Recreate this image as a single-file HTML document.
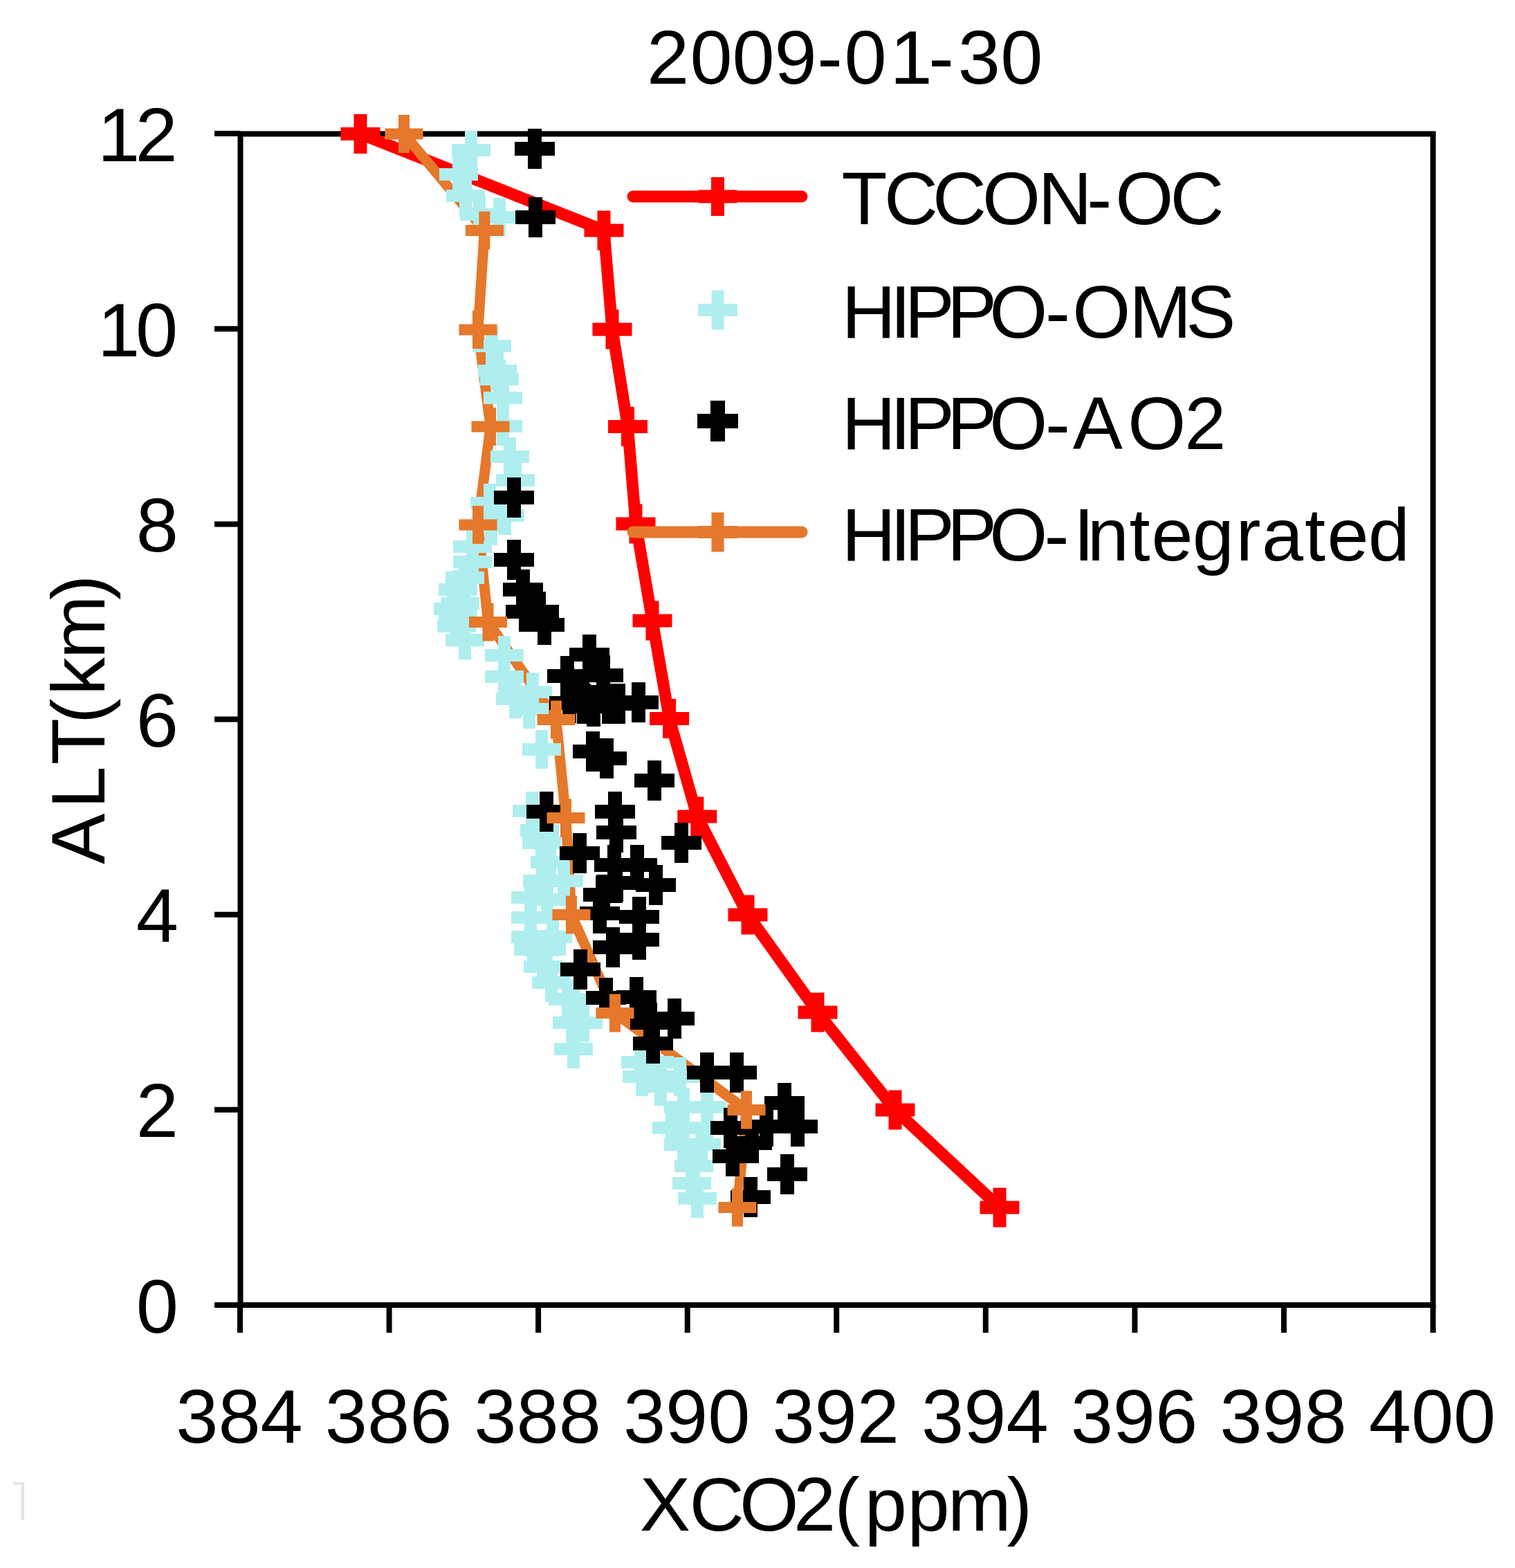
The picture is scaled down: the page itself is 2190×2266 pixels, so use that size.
<!DOCTYPE html><html><head><meta charset="utf-8"><style>html,body{margin:0;padding:0;background:#fff;}svg{display:block;}text{font-family:"Liberation Sans",Arial,sans-serif;fill:#000;}</style></head><body>
<svg width="2190" height="2266" viewBox="0 0 2190 2266">
<rect width="2190" height="2266" fill="#fff"/>
<text x="935.1 997.5 1058.5 1119.5 1181.2 1220.5 1286.5 1342.3 1384.8 1446.2" y="121" font-size="110">2009-01-30</text>
<text x="258" y="1925.5" font-size="110" text-anchor="end">0</text>
<text x="258" y="1643.3" font-size="110" text-anchor="end">2</text>
<text x="258" y="1361.2" font-size="110" text-anchor="end">4</text>
<text x="258" y="1079.0" font-size="110" text-anchor="end">6</text>
<text x="258" y="796.9" font-size="110" text-anchor="end">8</text>
<text x="141.0 196.0" y="514.7" font-size="110">10</text>
<text x="141.0 195.5" y="232.5" font-size="110">12</text>
<text x="346.0" y="2085" font-size="110" text-anchor="middle">384</text>
<text x="561.6" y="2085" font-size="110" text-anchor="middle">386</text>
<text x="777.1" y="2085" font-size="110" text-anchor="middle">388</text>
<text x="992.7" y="2085" font-size="110" text-anchor="middle">390</text>
<text x="1208.2" y="2085" font-size="110" text-anchor="middle">392</text>
<text x="1423.8" y="2085" font-size="110" text-anchor="middle">394</text>
<text x="1639.4" y="2085" font-size="110" text-anchor="middle">396</text>
<text x="1854.9" y="2085" font-size="110" text-anchor="middle">398</text>
<text x="2070.5" y="2085" font-size="110" text-anchor="middle">400</text>
<text x="924.8 996.5 1068.9 1146.9 1206.3 1249.7 1311.4 1370.0 1455.4" y="2212" font-size="110">XCO2(ppm)</text>
<text x="-1249.1 -1168.4 -1105.2 -1045.9 -1005.1 -952.0 -867.2" y="150.5" font-size="110" transform="rotate(-90)">ALT(km)</text>
<g stroke="#000" stroke-width="8" fill="none">
<rect x="347.5" y="193.5" width="1724" height="1692.5"/>
<line x1="310" y1="1886.0" x2="347.5" y2="1886.0"/>
<line x1="310" y1="1603.8" x2="347.5" y2="1603.8"/>
<line x1="310" y1="1321.7" x2="347.5" y2="1321.7"/>
<line x1="310" y1="1039.5" x2="347.5" y2="1039.5"/>
<line x1="310" y1="757.4" x2="347.5" y2="757.4"/>
<line x1="310" y1="475.2" x2="347.5" y2="475.2"/>
<line x1="310" y1="193.0" x2="347.5" y2="193.0"/>
<line x1="347.0" y1="1886" x2="347.0" y2="1926"/>
<line x1="562.6" y1="1886" x2="562.6" y2="1926"/>
<line x1="778.1" y1="1886" x2="778.1" y2="1926"/>
<line x1="993.7" y1="1886" x2="993.7" y2="1926"/>
<line x1="1209.2" y1="1886" x2="1209.2" y2="1926"/>
<line x1="1424.8" y1="1886" x2="1424.8" y2="1926"/>
<line x1="1640.4" y1="1886" x2="1640.4" y2="1926"/>
<line x1="1855.9" y1="1886" x2="1855.9" y2="1926"/>
<line x1="2071.5" y1="1886" x2="2071.5" y2="1926"/>
</g>
<path d="M521.0 193.5 L873.0 333.0 L885.0 476.0 L907.5 616.5 L919.0 757.0 L943.0 897.0 L967.6 1038.5 L1007.8 1180.0 L1081.0 1322.0 L1182.0 1463.0 L1294.0 1604.0 L1445.0 1745.0" fill="none" stroke="#ff0000" stroke-width="17" stroke-linejoin="round" stroke-linecap="round"/>
<path d="M511.5 165.0h19v19.0h19.0v19h-19.0v19.0h-19v-19.0h-19.0v-19h19.0z" fill="#ff0000"/>
<path d="M863.5 304.5h19v19.0h19.0v19h-19.0v19.0h-19v-19.0h-19.0v-19h19.0z" fill="#ff0000"/>
<path d="M875.5 447.5h19v19.0h19.0v19h-19.0v19.0h-19v-19.0h-19.0v-19h19.0z" fill="#ff0000"/>
<path d="M898.0 588.0h19v19.0h19.0v19h-19.0v19.0h-19v-19.0h-19.0v-19h19.0z" fill="#ff0000"/>
<path d="M909.5 728.5h19v19.0h19.0v19h-19.0v19.0h-19v-19.0h-19.0v-19h19.0z" fill="#ff0000"/>
<path d="M933.5 868.5h19v19.0h19.0v19h-19.0v19.0h-19v-19.0h-19.0v-19h19.0z" fill="#ff0000"/>
<path d="M958.1 1010.0h19v19.0h19.0v19h-19.0v19.0h-19v-19.0h-19.0v-19h19.0z" fill="#ff0000"/>
<path d="M998.3 1151.5h19v19.0h19.0v19h-19.0v19.0h-19v-19.0h-19.0v-19h19.0z" fill="#ff0000"/>
<path d="M1071.5 1293.5h19v19.0h19.0v19h-19.0v19.0h-19v-19.0h-19.0v-19h19.0z" fill="#ff0000"/>
<path d="M1172.5 1434.5h19v19.0h19.0v19h-19.0v19.0h-19v-19.0h-19.0v-19h19.0z" fill="#ff0000"/>
<path d="M1284.5 1575.5h19v19.0h19.0v19h-19.0v19.0h-19v-19.0h-19.0v-19h19.0z" fill="#ff0000"/>
<path d="M1435.5 1716.5h19v19.0h19.0v19h-19.0v19.0h-19v-19.0h-19.0v-19h19.0z" fill="#ff0000"/>
<path d="M584.0 193.5 L700.4 333.0 L691.0 476.5 L709.0 616.5 L691.0 758.5 L705.5 899.0 L804.0 1040.0 L818.0 1182.0 L826.0 1322.0 L889.0 1464.0 L1079.0 1604.0 L1066.0 1745.0" fill="none" stroke="#e5782a" stroke-width="15" stroke-linejoin="round" stroke-linecap="round"/>
<path fill="#afeeee" d=""/>
<path d="M672.0 189.0h18v19.0h19.0v18h-19.0v19.0h-18v-19.0h-19.0v-18h19.0z" fill="#afeeee"/>
<path d="M654.0 224.0h18v19.0h19.0v18h-19.0v19.0h-18v-19.0h-19.0v-18h19.0z" fill="#afeeee"/>
<path d="M664.0 255.0h18v19.0h19.0v18h-19.0v19.0h-18v-19.0h-19.0v-18h19.0z" fill="#afeeee"/>
<path d="M684.0 282.0h18v19.0h19.0v18h-19.0v19.0h-18v-19.0h-19.0v-18h19.0z" fill="#afeeee"/>
<path d="M713.0 286.0h18v19.0h19.0v18h-19.0v19.0h-18v-19.0h-19.0v-18h19.0z" fill="#afeeee"/>
<path d="M702.0 472.0h18v19.0h19.0v18h-19.0v19.0h-18v-19.0h-19.0v-18h19.0z" fill="#afeeee"/>
<path d="M710.0 508.0h18v19.0h19.0v18h-19.0v19.0h-18v-19.0h-19.0v-18h19.0z" fill="#afeeee"/>
<path d="M713.0 520.0h18v19.0h19.0v18h-19.0v19.0h-18v-19.0h-19.0v-18h19.0z" fill="#afeeee"/>
<path d="M718.0 547.0h18v19.0h19.0v18h-19.0v19.0h-18v-19.0h-19.0v-18h19.0z" fill="#afeeee"/>
<path d="M718.0 588.0h18v19.0h19.0v18h-19.0v19.0h-18v-19.0h-19.0v-18h19.0z" fill="#afeeee"/>
<path d="M728.0 632.0h18v19.0h19.0v18h-19.0v19.0h-18v-19.0h-19.0v-18h19.0z" fill="#afeeee"/>
<path d="M736.0 666.0h18v19.0h19.0v18h-19.0v19.0h-18v-19.0h-19.0v-18h19.0z" fill="#afeeee"/>
<path d="M699.0 699.0h18v19.0h19.0v18h-19.0v19.0h-18v-19.0h-19.0v-18h19.0z" fill="#afeeee"/>
<path d="M721.0 717.0h18v19.0h19.0v18h-19.0v19.0h-18v-19.0h-19.0v-18h19.0z" fill="#afeeee"/>
<path d="M701.0 732.0h18v19.0h19.0v18h-19.0v19.0h-18v-19.0h-19.0v-18h19.0z" fill="#afeeee"/>
<path d="M674.0 762.0h18v19.0h19.0v18h-19.0v19.0h-18v-19.0h-19.0v-18h19.0z" fill="#afeeee"/>
<path d="M674.0 784.0h18v19.0h19.0v18h-19.0v19.0h-18v-19.0h-19.0v-18h19.0z" fill="#afeeee"/>
<path d="M663.0 807.0h18v19.0h19.0v18h-19.0v19.0h-18v-19.0h-19.0v-18h19.0z" fill="#afeeee"/>
<path d="M653.0 824.0h18v19.0h19.0v18h-19.0v19.0h-18v-19.0h-19.0v-18h19.0z" fill="#afeeee"/>
<path d="M656.0 844.0h18v19.0h19.0v18h-19.0v19.0h-18v-19.0h-19.0v-18h19.0z" fill="#afeeee"/>
<path d="M653.0 862.0h18v19.0h19.0v18h-19.0v19.0h-18v-19.0h-19.0v-18h19.0z" fill="#afeeee"/>
<path d="M651.0 877.0h18v19.0h19.0v18h-19.0v19.0h-18v-19.0h-19.0v-18h19.0z" fill="#afeeee"/>
<path d="M646.0 852.0h18v19.0h19.0v18h-19.0v19.0h-18v-19.0h-19.0v-18h19.0z" fill="#afeeee"/>
<path d="M663.0 897.0h18v19.0h19.0v18h-19.0v19.0h-18v-19.0h-19.0v-18h19.0z" fill="#afeeee"/>
<path d="M720.0 919.0h18v19.0h19.0v18h-19.0v19.0h-18v-19.0h-19.0v-18h19.0z" fill="#afeeee"/>
<path d="M720.0 950.0h18v19.0h19.0v18h-19.0v19.0h-18v-19.0h-19.0v-18h19.0z" fill="#afeeee"/>
<path d="M761.0 972.0h18v19.0h19.0v18h-19.0v19.0h-18v-19.0h-19.0v-18h19.0z" fill="#afeeee"/>
<path d="M736.0 982.0h18v19.0h19.0v18h-19.0v19.0h-18v-19.0h-19.0v-18h19.0z" fill="#afeeee"/>
<path d="M756.0 997.0h18v19.0h19.0v18h-19.0v19.0h-18v-19.0h-19.0v-18h19.0z" fill="#afeeee"/>
<path d="M774.0 1055.0h18v19.0h19.0v18h-19.0v19.0h-18v-19.0h-19.0v-18h19.0z" fill="#afeeee"/>
<path d="M760.0 1144.0h18v19.0h19.0v18h-19.0v19.0h-18v-19.0h-19.0v-18h19.0z" fill="#afeeee"/>
<path d="M771.0 1172.0h18v19.0h19.0v18h-19.0v19.0h-18v-19.0h-19.0v-18h19.0z" fill="#afeeee"/>
<path d="M774.0 1190.0h18v19.0h19.0v18h-19.0v19.0h-18v-19.0h-19.0v-18h19.0z" fill="#afeeee"/>
<path d="M786.0 1218.0h18v19.0h19.0v18h-19.0v19.0h-18v-19.0h-19.0v-18h19.0z" fill="#afeeee"/>
<path d="M775.0 1245.0h18v19.0h19.0v18h-19.0v19.0h-18v-19.0h-19.0v-18h19.0z" fill="#afeeee"/>
<path d="M806.0 1245.0h18v19.0h19.0v18h-19.0v19.0h-18v-19.0h-19.0v-18h19.0z" fill="#afeeee"/>
<path d="M758.0 1269.0h18v19.0h19.0v18h-19.0v19.0h-18v-19.0h-19.0v-18h19.0z" fill="#afeeee"/>
<path d="M782.0 1272.0h18v19.0h19.0v18h-19.0v19.0h-18v-19.0h-19.0v-18h19.0z" fill="#afeeee"/>
<path d="M758.0 1298.0h18v19.0h19.0v18h-19.0v19.0h-18v-19.0h-19.0v-18h19.0z" fill="#afeeee"/>
<path d="M758.0 1326.0h18v19.0h19.0v18h-19.0v19.0h-18v-19.0h-19.0v-18h19.0z" fill="#afeeee"/>
<path d="M790.0 1326.0h18v19.0h19.0v18h-19.0v19.0h-18v-19.0h-19.0v-18h19.0z" fill="#afeeee"/>
<path d="M762.0 1344.0h18v19.0h19.0v18h-19.0v19.0h-18v-19.0h-19.0v-18h19.0z" fill="#afeeee"/>
<path d="M781.0 1344.0h18v19.0h19.0v18h-19.0v19.0h-18v-19.0h-19.0v-18h19.0z" fill="#afeeee"/>
<path d="M776.0 1369.0h18v19.0h19.0v18h-19.0v19.0h-18v-19.0h-19.0v-18h19.0z" fill="#afeeee"/>
<path d="M788.0 1392.0h18v19.0h19.0v18h-19.0v19.0h-18v-19.0h-19.0v-18h19.0z" fill="#afeeee"/>
<path d="M812.0 1416.0h18v19.0h19.0v18h-19.0v19.0h-18v-19.0h-19.0v-18h19.0z" fill="#afeeee"/>
<path d="M821.0 1416.0h18v19.0h19.0v18h-19.0v19.0h-18v-19.0h-19.0v-18h19.0z" fill="#afeeee"/>
<path d="M818.0 1450.0h18v19.0h19.0v18h-19.0v19.0h-18v-19.0h-19.0v-18h19.0z" fill="#afeeee"/>
<path d="M834.0 1450.0h18v19.0h19.0v18h-19.0v19.0h-18v-19.0h-19.0v-18h19.0z" fill="#afeeee"/>
<path d="M820.0 1488.0h18v19.0h19.0v18h-19.0v19.0h-18v-19.0h-19.0v-18h19.0z" fill="#afeeee"/>
<path d="M917.0 1507.0h18v19.0h19.0v18h-19.0v19.0h-18v-19.0h-19.0v-18h19.0z" fill="#afeeee"/>
<path d="M937.0 1507.0h18v19.0h19.0v18h-19.0v19.0h-18v-19.0h-19.0v-18h19.0z" fill="#afeeee"/>
<path d="M919.0 1528.0h18v19.0h19.0v18h-19.0v19.0h-18v-19.0h-19.0v-18h19.0z" fill="#afeeee"/>
<path d="M974.0 1528.0h18v19.0h19.0v18h-19.0v19.0h-18v-19.0h-19.0v-18h19.0z" fill="#afeeee"/>
<path d="M946.0 1542.0h18v19.0h19.0v18h-19.0v19.0h-18v-19.0h-19.0v-18h19.0z" fill="#afeeee"/>
<path d="M979.0 1572.0h18v19.0h19.0v18h-19.0v19.0h-18v-19.0h-19.0v-18h19.0z" fill="#afeeee"/>
<path d="M1013.0 1572.0h18v19.0h19.0v18h-19.0v19.0h-18v-19.0h-19.0v-18h19.0z" fill="#afeeee"/>
<path d="M962.0 1602.0h18v19.0h19.0v18h-19.0v19.0h-18v-19.0h-19.0v-18h19.0z" fill="#afeeee"/>
<path d="M1013.0 1602.0h18v19.0h19.0v18h-19.0v19.0h-18v-19.0h-19.0v-18h19.0z" fill="#afeeee"/>
<path d="M979.0 1626.0h18v19.0h19.0v18h-19.0v19.0h-18v-19.0h-19.0v-18h19.0z" fill="#afeeee"/>
<path d="M1005.0 1626.0h18v19.0h19.0v18h-19.0v19.0h-18v-19.0h-19.0v-18h19.0z" fill="#afeeee"/>
<path d="M994.0 1657.0h18v19.0h19.0v18h-19.0v19.0h-18v-19.0h-19.0v-18h19.0z" fill="#afeeee"/>
<path d="M991.0 1682.0h18v19.0h19.0v18h-19.0v19.0h-18v-19.0h-19.0v-18h19.0z" fill="#afeeee"/>
<path d="M999.0 1704.0h18v19.0h19.0v18h-19.0v19.0h-18v-19.0h-19.0v-18h19.0z" fill="#afeeee"/>
<path d="M763.0 186.0h20v19.0h19.0v20h-19.0v19.0h-20v-19.0h-19.0v-20h19.0z" fill="#000000"/>
<path d="M764.0 285.0h20v19.0h19.0v20h-19.0v19.0h-20v-19.0h-19.0v-20h19.0z" fill="#000000"/>
<path d="M733.0 690.0h20v19.0h19.0v20h-19.0v19.0h-20v-19.0h-19.0v-20h19.0z" fill="#000000"/>
<path d="M733.0 780.0h20v19.0h19.0v20h-19.0v19.0h-20v-19.0h-19.0v-20h19.0z" fill="#000000"/>
<path d="M746.0 823.0h20v19.0h19.0v20h-19.0v19.0h-20v-19.0h-19.0v-20h19.0z" fill="#000000"/>
<path d="M750.0 855.0h20v19.0h19.0v20h-19.0v19.0h-20v-19.0h-19.0v-20h19.0z" fill="#000000"/>
<path d="M769.0 855.0h20v19.0h19.0v20h-19.0v19.0h-20v-19.0h-19.0v-20h19.0z" fill="#000000"/>
<path d="M777.0 874.0h20v19.0h19.0v20h-19.0v19.0h-20v-19.0h-19.0v-20h19.0z" fill="#000000"/>
<path d="M842.0 917.0h20v19.0h19.0v20h-19.0v19.0h-20v-19.0h-19.0v-20h19.0z" fill="#000000"/>
<path d="M810.0 948.0h20v19.0h19.0v20h-19.0v19.0h-20v-19.0h-19.0v-20h19.0z" fill="#000000"/>
<path d="M862.0 947.0h20v19.0h19.0v20h-19.0v19.0h-20v-19.0h-19.0v-20h19.0z" fill="#000000"/>
<path d="M884.0 988.0h20v19.0h19.0v20h-19.0v19.0h-20v-19.0h-19.0v-20h19.0z" fill="#000000"/>
<path d="M913.0 986.0h20v19.0h19.0v20h-19.0v19.0h-20v-19.0h-19.0v-20h19.0z" fill="#000000"/>
<path d="M813.0 987.0h20v19.0h19.0v20h-19.0v19.0h-20v-19.0h-19.0v-20h19.0z" fill="#000000"/>
<path d="M848.0 992.0h20v19.0h19.0v20h-19.0v19.0h-20v-19.0h-19.0v-20h19.0z" fill="#000000"/>
<path d="M834.0 988.0h20v19.0h19.0v20h-19.0v19.0h-20v-19.0h-19.0v-20h19.0z" fill="#000000"/>
<path d="M870.0 988.0h20v19.0h19.0v20h-19.0v19.0h-20v-19.0h-19.0v-20h19.0z" fill="#000000"/>
<path d="M832.0 971.0h20v19.0h19.0v20h-19.0v19.0h-20v-19.0h-19.0v-20h19.0z" fill="#000000"/>
<path d="M847.0 1057.0h20v19.0h19.0v20h-19.0v19.0h-20v-19.0h-19.0v-20h19.0z" fill="#000000"/>
<path d="M867.0 1067.0h20v19.0h19.0v20h-19.0v19.0h-20v-19.0h-19.0v-20h19.0z" fill="#000000"/>
<path d="M936.0 1099.0h20v19.0h19.0v20h-19.0v19.0h-20v-19.0h-19.0v-20h19.0z" fill="#000000"/>
<path d="M879.0 1144.0h20v19.0h19.0v20h-19.0v19.0h-20v-19.0h-19.0v-20h19.0z" fill="#000000"/>
<path d="M881.0 1174.0h20v19.0h19.0v20h-19.0v19.0h-20v-19.0h-19.0v-20h19.0z" fill="#000000"/>
<path d="M780.0 1144.0h20v19.0h19.0v20h-19.0v19.0h-20v-19.0h-19.0v-20h19.0z" fill="#000000"/>
<path d="M828.0 1204.0h20v19.0h19.0v20h-19.0v19.0h-20v-19.0h-19.0v-20h19.0z" fill="#000000"/>
<path d="M975.0 1189.0h20v19.0h19.0v20h-19.0v19.0h-20v-19.0h-19.0v-20h19.0z" fill="#000000"/>
<path d="M878.0 1221.0h20v19.0h19.0v20h-19.0v19.0h-20v-19.0h-19.0v-20h19.0z" fill="#000000"/>
<path d="M911.0 1221.0h20v19.0h19.0v20h-19.0v19.0h-20v-19.0h-19.0v-20h19.0z" fill="#000000"/>
<path d="M862.0 1264.0h20v19.0h19.0v20h-19.0v19.0h-20v-19.0h-19.0v-20h19.0z" fill="#000000"/>
<path d="M880.0 1247.0h20v19.0h19.0v20h-19.0v19.0h-20v-19.0h-19.0v-20h19.0z" fill="#000000"/>
<path d="M938.0 1250.0h20v19.0h19.0v20h-19.0v19.0h-20v-19.0h-19.0v-20h19.0z" fill="#000000"/>
<path d="M914.0 1296.0h20v19.0h19.0v20h-19.0v19.0h-20v-19.0h-19.0v-20h19.0z" fill="#000000"/>
<path d="M857.0 1291.0h20v19.0h19.0v20h-19.0v19.0h-20v-19.0h-19.0v-20h19.0z" fill="#000000"/>
<path d="M914.0 1329.0h20v19.0h19.0v20h-19.0v19.0h-20v-19.0h-19.0v-20h19.0z" fill="#000000"/>
<path d="M876.0 1340.0h20v19.0h19.0v20h-19.0v19.0h-20v-19.0h-19.0v-20h19.0z" fill="#000000"/>
<path d="M829.0 1372.0h20v19.0h19.0v20h-19.0v19.0h-20v-19.0h-19.0v-20h19.0z" fill="#000000"/>
<path d="M866.0 1413.0h20v19.0h19.0v20h-19.0v19.0h-20v-19.0h-19.0v-20h19.0z" fill="#000000"/>
<path d="M910.0 1412.0h20v19.0h19.0v20h-19.0v19.0h-20v-19.0h-19.0v-20h19.0z" fill="#000000"/>
<path d="M965.0 1443.0h20v19.0h19.0v20h-19.0v19.0h-20v-19.0h-19.0v-20h19.0z" fill="#000000"/>
<path d="M930.0 1449.0h20v19.0h19.0v20h-19.0v19.0h-20v-19.0h-19.0v-20h19.0z" fill="#000000"/>
<path d="M934.0 1479.0h20v19.0h19.0v20h-19.0v19.0h-20v-19.0h-19.0v-20h19.0z" fill="#000000"/>
<path d="M1012.0 1521.0h20v19.0h19.0v20h-19.0v19.0h-20v-19.0h-19.0v-20h19.0z" fill="#000000"/>
<path d="M1055.0 1521.0h20v19.0h19.0v20h-19.0v19.0h-20v-19.0h-19.0v-20h19.0z" fill="#000000"/>
<path d="M1124.0 1565.0h20v19.0h19.0v20h-19.0v19.0h-20v-19.0h-19.0v-20h19.0z" fill="#000000"/>
<path d="M1143.0 1599.0h20v19.0h19.0v20h-19.0v19.0h-20v-19.0h-19.0v-20h19.0z" fill="#000000"/>
<path d="M1046.0 1601.0h20v19.0h19.0v20h-19.0v19.0h-20v-19.0h-19.0v-20h19.0z" fill="#000000"/>
<path d="M1049.0 1642.0h20v19.0h19.0v20h-19.0v19.0h-20v-19.0h-19.0v-20h19.0z" fill="#000000"/>
<path d="M1077.0 1623.0h20v19.0h19.0v20h-19.0v19.0h-20v-19.0h-19.0v-20h19.0z" fill="#000000"/>
<path d="M1098.0 1599.0h20v19.0h19.0v20h-19.0v19.0h-20v-19.0h-19.0v-20h19.0z" fill="#000000"/>
<path d="M1128.0 1668.0h20v19.0h19.0v20h-19.0v19.0h-20v-19.0h-19.0v-20h19.0z" fill="#000000"/>
<path d="M1075.0 1701.0h20v19.0h19.0v20h-19.0v19.0h-20v-19.0h-19.0v-20h19.0z" fill="#000000"/>
<path d="M576.0 166.0h16v19.5h19.5v16h-19.5v19.5h-16v-19.5h-19.5v-16h19.5z" fill="#e5782a"/>
<path d="M692.4 305.5h16v19.5h19.5v16h-19.5v19.5h-16v-19.5h-19.5v-16h19.5z" fill="#e5782a"/>
<path d="M683.0 449.0h16v19.5h19.5v16h-19.5v19.5h-16v-19.5h-19.5v-16h19.5z" fill="#e5782a"/>
<path d="M701.0 589.0h16v19.5h19.5v16h-19.5v19.5h-16v-19.5h-19.5v-16h19.5z" fill="#e5782a"/>
<path d="M683.0 731.0h16v19.5h19.5v16h-19.5v19.5h-16v-19.5h-19.5v-16h19.5z" fill="#e5782a"/>
<path d="M697.5 871.5h16v19.5h19.5v16h-19.5v19.5h-16v-19.5h-19.5v-16h19.5z" fill="#e5782a"/>
<path d="M796.0 1012.5h16v19.5h19.5v16h-19.5v19.5h-16v-19.5h-19.5v-16h19.5z" fill="#e5782a"/>
<path d="M810.0 1154.5h16v19.5h19.5v16h-19.5v19.5h-16v-19.5h-19.5v-16h19.5z" fill="#e5782a"/>
<path d="M818.0 1294.5h16v19.5h19.5v16h-19.5v19.5h-16v-19.5h-19.5v-16h19.5z" fill="#e5782a"/>
<path d="M881.0 1436.5h16v19.5h19.5v16h-19.5v19.5h-16v-19.5h-19.5v-16h19.5z" fill="#e5782a"/>
<path d="M1071.0 1576.5h16v19.5h19.5v16h-19.5v19.5h-16v-19.5h-19.5v-16h19.5z" fill="#e5782a"/>
<path d="M1058.0 1717.5h16v19.5h19.5v16h-19.5v19.5h-16v-19.5h-19.5v-16h19.5z" fill="#e5782a"/>
<line x1="915" y1="284" x2="1159" y2="284" stroke="#ff0000" stroke-width="17" stroke-linecap="round"/>
<path d="M1028.0 256.0h19v18.5h18.5v19h-18.5v18.5h-19v-18.5h-18.5v-19h18.5z" fill="#ff0000"/>
<path d="M1028.5 419.5h18v19.5h19.5v18h-19.5v19.5h-18v-19.5h-19.5v-18h19.5z" fill="#afeeee"/>
<path d="M1027.0 579.0h21v19.0h19.0v21h-19.0v19.0h-21v-19.0h-19.0v-21h19.0z" fill="#000000"/>
<line x1="915" y1="769" x2="1159" y2="769" stroke="#e5782a" stroke-width="17" stroke-linecap="round"/>
<path d="M1028.5 740.5h18v19.5h19.5v18h-19.5v19.5h-18v-19.5h-19.5v-18h19.5z" fill="#e5782a"/>
<text x="1216.6 1278.0 1348.0 1420.0 1500.5 1571.3 1612.2 1691.5" y="324" font-size="108">TCCON-OC</text>
<text x="1216.7 1286.7 1307.7 1368.9 1430.3 1511.1 1550.2 1632.2 1714.2" y="487.5" font-size="108">HIPPO-OMS</text>
<text x="1216.7 1286.7 1307.7 1368.9 1430.3 1511.1 1550.7 1630.2 1712.3" y="648.5" font-size="108">HIPPO-AO2</text>
<text x="1216.7 1286.7 1307.7 1368.9 1430.3 1509.6 1551.8 1571.7 1632.5 1664.5 1723.7 1786.5 1824.0 1886.0 1918.6 1977.8" y="810" font-size="108">HIPPO-Integrated</text>
<path d="M19 2142H35V2197H31V2145.5H19z" fill="#e3e3e3"/>
</svg></body></html>
